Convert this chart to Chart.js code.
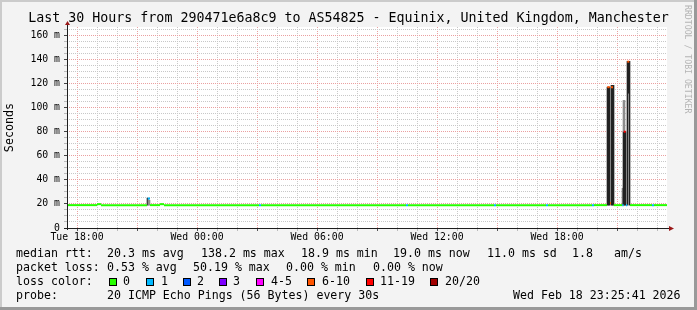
<!DOCTYPE html>
<html lang="en">
<head>
<meta charset="UTF-8">
<title>Smokeping</title>
<script src="https://cdn.jsdelivr.net/npm/chart.js@4.4.1/dist/chart.umd.min.js"></script>
<style>
  body { margin: 0; background: #f3f3f3; }
  canvas { display: block; }
</style>
</head>
<body>
<canvas id="graph" width="697" height="310"></canvas>
<script>
// loss colour legend
const lossLabels = ['0', '1', '2', '3', '4-5', '6-10', '11-19', '20/20'];
const lossColors = ['#26ff00', '#00b8ff', '#0059ff', '#7e00ff', '#ff00ff', '#ff5500', '#ff0000', '#a10000'];

// median rtt, as runs (hours after Tue 18:00, ms, loss class)
const runStart = [-0.5, 1.0, 1.2, 3.535, 3.65, 4.15, 4.35, 9.1, 9.2, 16.45, 16.55, 20.85, 20.95, 23.45,
                  23.55, 25.75, 25.85, 26.515, 26.65, 26.7, 26.835, 27.265, 27.335, 27.45, 27.515, 27.65, 28.75, 28.85];
const runEnd   = [1.0, 1.2, 3.5, 3.65, 4.15, 4.35, 9.1, 9.2, 16.45, 16.55, 20.85, 20.95, 23.45, 23.55,
                  25.75, 25.85, 26.5, 26.635, 26.7, 26.8, 27.265, 27.335, 27.435, 27.515, 27.615, 28.75, 28.85, 29.5];
const runMs    = [19.0, 19.8, 19.0, 24.5, 19.0, 19.8, 19.0, 19.0, 19.0, 19.0, 19.0, 19.0, 19.0, 19.0,
                  19.0, 19.0, 19.0, 117, 20.5, 117, 19.0, 19.0, 80, 19.0, 138.2, 19.0, 19.0, 19.0];
const runLoss  = [0, 0, 0, 1, 0, 0, 0, 1, 0, 1, 0, 1, 0, 1,
                  0, 1, 0, 5, 5, 5, 0, 1, 6, 1, 5, 0, 1, 0];

// smoke (ping spread) columns
const smokeHour  = [3.525, 3.575, 3.625, 26.525, 26.575, 26.625, 26.725, 26.775, 26.825,
                    27.275, 27.325, 27.325, 27.375, 27.375, 27.425, 27.525, 27.575, 27.625];
const smokeLow   = [19, 19, 19, 19, 19, 19, 19, 19, 19, 19, 19, 80, 19, 80, 19, 19, 112, 19];
const smokeHigh  = [24.8, 23.5, 23, 117, 117, 117, 118.5, 118.5, 118.5, 33, 80, 106, 80, 106, 80, 138.5, 138.5, 138.5];
const smokeShade = [0, 1, 1, 0, 0, 0, 0, 0, 0, 1, 0, 1, 0, 1, 0, 0, 0, 0];

// axes
const xLabelHours = [0, 6, 12, 18, 24];
const xLabels = ['Tue 18:00', 'Wed 00:00', 'Wed 06:00', 'Wed 12:00', 'Wed 18:00'];
const yLabelValues = [0, 20, 40, 60, 80, 100, 120, 140, 160];
const yLabels = ['0', '20 m', '40 m', '60 m', '80 m', '100 m', '120 m', '140 m', '160 m'];

const mono = 'DejaVu Sans Mono';
const minorGrid = '#c8c8c8';
const majorGrid = '#eaa0a0';

const medianData = [];
runStart.forEach((s, i) => {
    medianData.push({x: s, y: runMs[i]}, {x: runEnd[i], y: runMs[i]}, {x: runEnd[i], y: null});
});

const smokeData = smokeHour.map((h, i) => ({x: h, y: [smokeLow[i], smokeHigh[i]]}));

const backdrop = {
    id: 'backdrop',
    beforeDraw(chart) {
        const c = chart.ctx, a = chart.chartArea;
        c.save();
        c.fillStyle = '#f3f3f3';
        c.fillRect(0, 0, chart.width, chart.height);
        c.fillStyle = '#ffffff';
        c.fillRect(a.left, a.top, a.right - a.left, a.bottom - a.top);
        c.restore();
    },
    afterDraw(chart) {
        const c = chart.ctx, a = chart.chartArea;
        c.save();
        // axes with arrows
        c.strokeStyle = '#1e1e1e';
        c.lineWidth = 1;
        c.beginPath();
        c.moveTo(a.left + 0.5, a.bottom + 2);
        c.lineTo(a.left + 0.5, a.top - 3);
        c.moveTo(a.left - 3, a.bottom + 0.5);
        c.lineTo(a.right + 3, a.bottom + 0.5);
        c.stroke();
        c.fillStyle = '#9a1818';
        c.beginPath();
        c.moveTo(a.left - 2, a.top - 2);
        c.lineTo(a.left + 3, a.top - 2);
        c.lineTo(a.left + 0.5, a.top - 6);
        c.closePath();
        c.fill();
        c.beginPath();
        c.moveTo(a.right + 2, a.bottom - 2);
        c.lineTo(a.right + 2, a.bottom + 3);
        c.lineTo(a.right + 7, a.bottom + 0.5);
        c.closePath();
        c.fill();

        // legend block under the graph
        c.fillStyle = '#000';
        c.font = '11.6px "' + mono + '"';
        c.textBaseline = 'middle';
        const rows = [
            [[16, 'median rtt:'], [107, '20.3 ms avg'], [201, '138.2 ms max'], [301, '18.9 ms min'],
             [393, '19.0 ms now'], [487, '11.0 ms sd'], [572, '1.8'], [614, 'am/s']],
            [[16, 'packet loss:'], [107, '0.53 % avg'], [193, '50.19 % max'], [286, '0.00 % min'], [373, '0.00 % now']],
            [[16, 'loss color:']],
            [[16, 'probe:'], [107, '20 ICMP Echo Pings (56 Bytes) every 30s'], [513, 'Wed Feb 18 23:25:41 2026']]
        ];
        const rowY = [254, 268, 282, 296];
        rows.forEach((r, i) => r.forEach(([x, t]) => c.fillText(t, x, rowY[i])));
        const boxX = [109, 146, 183, 219, 256, 307, 366, 430];
        const boxLabelX = [123, 161, 197, 233, 271, 322, 380, 445];
        lossLabels.forEach((lab, i) => {
            c.fillStyle = lossColors[i];
            c.fillRect(boxX[i], rowY[2] - 4, 8, 8);
            c.strokeStyle = '#000';
            c.strokeRect(boxX[i] + 0.5, rowY[2] - 3.5, 7, 7);
            c.fillStyle = '#000';
            c.fillText(lab, boxLabelX[i], rowY[2]);
        });

        // watermark
        c.save();
        c.translate(687, 5);
        c.rotate(Math.PI / 2);
        c.fillStyle = '#b4b4b4';
        c.font = '8.2px "' + mono + '"';
        c.textBaseline = 'middle';
        c.fillText('RRDTOOL / TOBI OETIKER', 0, 0);
        c.restore();

        // frame
        c.fillStyle = '#cbcbcb';
        c.fillRect(0, 0, chart.width, 2);
        c.fillRect(0, 0, 2, chart.height);
        c.fillStyle = '#999999';
        c.fillRect(0, chart.height - 3, chart.width, 3);
        c.fillRect(chart.width - 3, 0, 3, chart.height);
        c.restore();
    }
};

const ctx = document.getElementById('graph');

new Chart(ctx, {
    type: 'line',
    data: {
        datasets: [
            {
                label: 'median rtt',
                data: medianData,
                borderWidth: 2,
                borderCapStyle: 'butt',
                pointRadius: 0,
                tension: 0,
                spanGaps: false,
                segment: {
                    borderColor: s => lossColors[runLoss[Math.floor(s.p0DataIndex / 3)]]
                },
                order: 0
            },
            {
                type: 'bar',
                label: 'smoke',
                data: smokeData,
                backgroundColor: smokeShade.map(s => s ? '#8c8c8c' : '#222222'),
                borderWidth: 0,
                barThickness: 1,
                order: 1
            }
        ]
    },
    options: {
        responsive: false,
        animation: false,
        events: [],
        layout: { padding: 0 },
        plugins: {
            legend: { display: false },
            tooltip: { enabled: false },
            title: {
                display: true,
                text: 'Last 30 Hours from 290471e6a8c9 to AS54825 - Equinix, United Kingdom, Manchester',
                color: '#000',
                font: { family: mono, size: 13.3, weight: 'normal', lineHeight: '16px' },
                padding: { top: 11, bottom: 0 }
            }
        },
        scales: {
            x: {
                type: 'linear',
                min: -0.5,
                max: 29.5,
                offset: false,
                afterBuildTicks: s => {
                    const t = [];
                    for (let h = 0; h <= 29; h++) t.push({ value: h });
                    s.ticks = t;
                },
                afterFit: s => { s.height = 82; },
                grid: {
                    offset: false,
                    color: g => g.tick && g.tick.value % 3 === 0 ? majorGrid : minorGrid,
                    tickColor: g => g.tick && g.tick.value % 3 === 0 ? '#555' : '#bbb',
                    tickLength: 3,
                    lineWidth: 1
                },
                border: { display: false, dash: [1, 1] },
                ticks: {
                    autoSkip: false,
                    maxRotation: 0,
                    padding: 1,
                    color: '#000',
                    font: { family: mono, size: 9.8 },
                    callback: v => {
                        const k = xLabelHours.indexOf(v);
                        return k >= 0 ? xLabels[k] : '';
                    }
                }
            },
            y: {
                type: 'linear',
                min: 0,
                max: 167,
                afterBuildTicks: s => {
                    const t = [];
                    for (let v = 0; v <= 165; v += 5) t.push({ value: v });
                    s.ticks = t;
                },
                afterFit: s => { s.width = 67; },
                grid: {
                    color: g => g.tick && g.tick.value % 20 === 0 ? majorGrid : minorGrid,
                    tickColor: g => g.tick && g.tick.value % 20 === 0 ? '#444' : '#bbb',
                    tickLength: 3,
                    lineWidth: 1
                },
                border: { display: false, dash: [1, 1] },
                title: {
                    display: true,
                    text: 'Seconds',
                    color: '#000',
                    font: { family: mono, size: 11.7 },
                    padding: { top: 3, bottom: 0 }
                },
                ticks: {
                    autoSkip: false,
                    padding: 4,
                    color: '#000',
                    font: { family: mono, size: 9.8 },
                    callback: v => {
                        const k = yLabelValues.indexOf(v);
                        return k >= 0 ? yLabels[k] : '';
                    }
                }
            },
            yr: {
                position: 'right',
                display: true,
                grid: { display: false },
                border: { display: false },
                ticks: { display: false },
                afterFit: s => { s.width = 30; }
            }
        }
    },
    plugins: [backdrop]
});
</script>
</body>
</html>
